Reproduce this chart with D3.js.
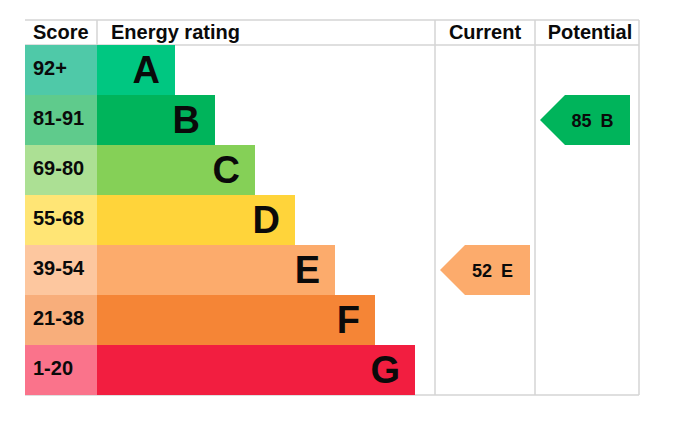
<!DOCTYPE html>
<html>
<head>
<meta charset="utf-8">
<script src="https://cdn.jsdelivr.net/npm/d3@7"></script>
<style>
  body { margin: 0; background: #fff; }
  text { font-family: "Liberation Sans", Arial, sans-serif; font-weight: bold; fill: #0a0a0a; }
</style>
</head>
<body>
<div id="chart"></div>
<script>
// energy bands, top to bottom
var bands = ["A", "B", "C", "D", "E", "F", "G"];
var ranges = ["92+", "81-91", "69-80", "55-68", "39-54", "21-38", "1-20"];
var bar_len = [1, 2, 3, 4, 5, 6, 7];
var bar_colors = ["#00c781", "#00b45b", "#85d057", "#ffd43a", "#fcab6c", "#f58536", "#f21e40"];
var score_colors = ["#4fc9a8", "#5fcb8c", "#ace094", "#ffe575", "#fdc79f", "#f8ae7b", "#fa738b"];
var headers = ["Score", "Energy rating", "Current", "Potential"];

var current = { value: 52, band: "E", color: "#fcab6c" };
var potential = { value: 85, band: "B", color: "#00b45b" };

var width = 681, height = 436;
var left = 25, right = 639, top_y = 20, head_h = 25, bottom = 395;
var score_w = 72;
var col_cur = 435, col_pot = 535;
var grid = "#d5d5d5";

var svg = d3.select("#chart")
	.append("svg")
	.attr("width", width)
	.attr("height", height);

var y = d3.scaleBand()
	.domain(bands)
	.range([top_y + head_h, bottom]);

var x = d3.scaleLinear()
	.domain([1, 7])
	.range([175, 415]);

// grid lines
var lines = [
	[left, top_y, right, top_y],
	[left, top_y + head_h, right, top_y + head_h],
	[left, bottom, right, bottom],
	[left + score_w, top_y, left + score_w, top_y + head_h],
	[col_cur, top_y, col_cur, bottom],
	[col_pot, top_y, col_pot, bottom],
	[right, top_y, right, bottom]
];
svg.selectAll("line.grid")
	.data(lines)
	.enter().append("line")
	.attr("class", "grid")
	.attr("x1", function(d) { return d[0]; })
	.attr("y1", function(d) { return d[1]; })
	.attr("x2", function(d) { return d[2]; })
	.attr("y2", function(d) { return d[3]; })
	.attr("stroke", grid)
	.attr("stroke-width", 1.5);

// header texts
var head_x = [left + 8, left + score_w + 14, (col_cur + col_pot) / 2, 590];
var head_anchor = ["start", "start", "middle", "middle"];
svg.selectAll("text.head")
	.data(headers)
	.enter().append("text")
	.attr("class", "head")
	.attr("x", function(d, i) { return head_x[i]; })
	.attr("y", top_y + 19)
	.attr("text-anchor", function(d, i) { return head_anchor[i]; })
	.style("font-size", "20px")
	.text(function(d) { return d; });

// score cells
svg.selectAll("rect.score")
	.data(bands)
	.enter().append("rect")
	.attr("class", "score")
	.attr("x", left)
	.attr("y", function(d) { return y(d); })
	.attr("width", score_w)
	.attr("height", y.bandwidth())
	.attr("fill", function(d, i) { return score_colors[i]; });

svg.selectAll("text.range")
	.data(ranges)
	.enter().append("text")
	.attr("class", "range")
	.attr("x", left + 8)
	.attr("y", function(d, i) { return y(bands[i]) + 30; })
	.style("font-size", "20px")
	.text(function(d) { return d; });

// bars
svg.selectAll("rect.bar")
	.data(bands)
	.enter().append("rect")
	.attr("class", "bar")
	.attr("x", left + score_w)
	.attr("y", function(d) { return y(d); })
	.attr("width", function(d, i) { return x(bar_len[i]) - left - score_w; })
	.attr("height", y.bandwidth())
	.attr("fill", function(d, i) { return bar_colors[i]; });

svg.selectAll("text.band")
	.data(bands)
	.enter().append("text")
	.attr("class", "band")
	.attr("x", function(d, i) { return x(bar_len[i]) - 15; })
	.attr("y", function(d) { return y(d) + 38; })
	.attr("text-anchor", "end")
	.style("font-size", "38px")
	.text(function(d) { return d; });

// arrows for current and potential
function arrow(r, x0, x1) {
	var yt = y(r.band), h = y.bandwidth();
	var tip = 25;
	var pts = [[x0, yt + h / 2], [x0 + tip, yt], [x1, yt], [x1, yt + h], [x0 + tip, yt + h]];
	svg.append("polygon")
		.attr("points", pts.map(function(p) { return p.join(","); }).join(" "))
		.attr("fill", r.color);
	var cx = (x0 + tip + x1) / 2 - 5;
	var t = svg.append("text")
		.attr("x", cx)
		.attr("y", yt + h / 2 + 7)
		.attr("text-anchor", "middle")
		.style("font-size", "18px");
	t.append("tspan").text(r.value);
	t.append("tspan").attr("dx", 9).text(r.band);
}
arrow(current, col_cur + 5, col_pot - 5);
arrow(potential, col_pot + 5, right - 9);
</script>
</body>
</html>
